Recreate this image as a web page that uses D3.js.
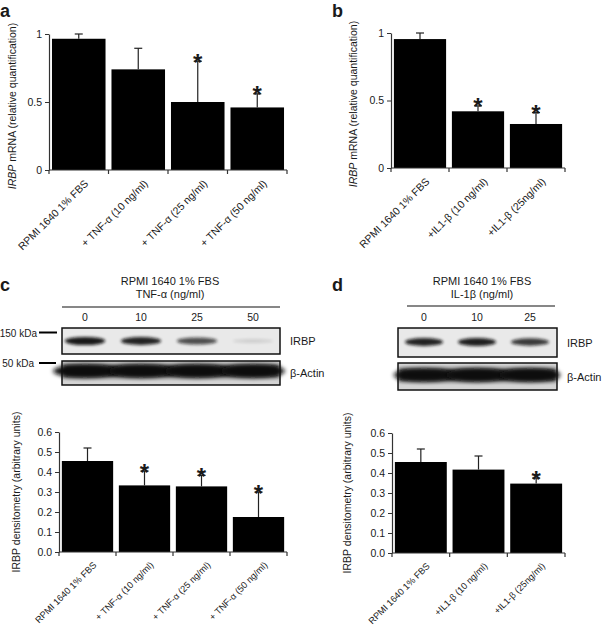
<!DOCTYPE html>
<html><head><meta charset="utf-8">
<script src="https://cdn.jsdelivr.net/npm/d3@7"></script>
<style>
body{margin:0;background:#fff}
svg{display:block}
text{font-family:"Liberation Sans",Arial,Helvetica,sans-serif;fill:#1a1a1a}
</style>
</head><body>
<svg id="fig" width="609" height="628"></svg>
<script>
// ---------- data ----------
const catsTNF = ["RPMI 1640 1% FBS", "+ TNF-\u03b1 (10 ng/ml)", "+ TNF-\u03b1 (25 ng/ml)", "+ TNF-\u03b1 (50 ng/ml)"];
const catsIL  = ["RPMI 1640 1% FBS", "+IL1-\u03b2 (10 ng/ml)", "+IL1-\u03b2 (25ng/ml)"];

const valsA = [0.965, 0.74, 0.50, 0.46];
const errA  = [0.035, 0.155, 0.30, 0.10];
const sigA  = [false, false, true, true];

const valsB = [0.955, 0.42, 0.326];
const errB  = [0.045, 0.04, 0.084];
const sigB  = [false, true, true];

const valsC = [0.455, 0.333, 0.328, 0.175];
const errC  = [0.065, 0.072, 0.055, 0.125];
const sigC  = [false, true, true, true];

const valsD = [0.455, 0.417, 0.347];
const errD  = [0.065, 0.068, 0.028];
const sigD  = [false, false, true];

const ticksMRNA = [0, 0.5, 1];
const ticksDens = [0, 0.1, 0.2, 0.3, 0.4, 0.5, 0.6];

const lanesC = ["0", "10", "25", "50"];
const irbpC  = [0.95, 0.9, 0.7, 0.12];
const actinC = [1, 1, 1, 1];
const lanesD = ["0", "10", "25"];
const irbpD  = [0.9, 0.92, 0.8];
const actinD = [0.95, 1, 1];

// ---------- setup ----------
const svg = d3.select("#fig");
const defs = svg.append("defs");
defs.append("filter").attr("id","blurS").attr("x","-50%").attr("y","-100%").attr("width","200%").attr("height","300%")
  .append("feGaussianBlur").attr("stdDeviation",1.4);
defs.append("filter").attr("id","blurL").attr("x","-20%").attr("y","-100%").attr("width","140%").attr("height","300%")
  .append("feGaussianBlur").attr("stdDeviation",2.2);

function panelLetter(t, x, y){
  svg.append("text").attr("x",x).attr("y",y).attr("font-size",18).attr("font-weight","bold").attr("fill","#000").text(t);
}

function barPanel(o){
  const g = svg.append("g");
  const x = d3.scaleBand().domain(o.cats).range([o.x0, o.x1]).paddingInner(0.1).paddingOuter(0.05);
  const y = d3.scaleLinear().domain([0, o.max]).range([o.y0, o.yTop]);
  const step = x.step();
  const rows = o.vals.map((v,i)=>({c:o.cats[i], v:v, e:o.errs[i], s:o.sig[i]}));
  const cx = d => x(d.c) + x.bandwidth()/2;
  // bars
  g.selectAll("rect.bar").data(rows).join("rect").attr("class","bar")
    .attr("x",d=>x(d.c)).attr("y",d=>y(d.v))
    .attr("width",x.bandwidth()).attr("height",d=>o.y0-y(d.v)).attr("fill","#000");
  // error bars
  g.selectAll("line.ev").data(rows).join("line").attr("class","ev")
    .attr("x1",cx).attr("x2",cx).attr("y1",d=>y(d.v)).attr("y2",d=>y(d.v+d.e))
    .attr("stroke","#222").attr("stroke-width",1.2);
  g.selectAll("line.ec").data(rows).join("line").attr("class","ec")
    .attr("x1",d=>cx(d)-4).attr("x2",d=>cx(d)+4).attr("y1",d=>y(d.v+d.e)).attr("y2",d=>y(d.v+d.e))
    .attr("stroke","#222").attr("stroke-width",1.2);
  // significance stars
  g.selectAll("text.star").data(rows.filter(d=>d.s)).join("text").attr("class","star")
    .attr("x",cx).attr("y",d=>y(d.v+d.e)+9.5)
    .attr("text-anchor","middle").attr("font-size",24).attr("font-weight","bold").attr("fill","#000").text("*");
  // y axis
  const ya = d3.axisLeft(y).tickValues(o.ticks).tickFormat(o.fmt).tickSize(4).tickSizeOuter(0).tickPadding(3);
  const yg = g.append("g").attr("transform",`translate(${o.x0},0)`).call(ya);
  yg.select(".domain").attr("stroke","#333").attr("stroke-width",1.2);
  yg.selectAll(".tick line").attr("stroke","#333");
  yg.selectAll(".tick text").attr("font-size",10.5).attr("font-family",null).attr("fill","#222");
  // x axis line + ticks at category boundaries
  g.append("line").attr("x1",o.x0).attr("x2",o.x1).attr("y1",o.y0).attr("y2",o.y0).attr("stroke","#333").attr("stroke-width",1.2);
  const bounds = o.cats.map(c=>x(c)-step*0.05).concat([o.x1]);
  g.selectAll("line.xt").data(bounds).join("line").attr("class","xt")
    .attr("x1",d=>d).attr("x2",d=>d).attr("y1",o.y0).attr("y2",o.y0+4).attr("stroke","#333").attr("stroke-width",1.2);
  // category labels
  g.selectAll("text.cat").data(o.cats).join("text").attr("class","cat")
    .attr("transform",d=>`translate(${x(d)+x.bandwidth()/2+5},${o.y0+9}) rotate(-45)`)
    .attr("text-anchor","end").attr("dy","0.7em").attr("font-size",o.catSize).text(d=>d);
  // y label
  const yl = g.append("text").attr("transform",`translate(${o.ylx},${o.yly}) rotate(-90)`)
    .attr("text-anchor","middle").attr("font-size",10.5);
  o.ylabel.forEach(p=>{ const t = yl.append("tspan").text(p.t); if(p.i) t.attr("font-style","italic"); });
}

function blotPanel(o){
  const g = svg.append("g");
  // titles
  g.append("text").attr("x",o.cx).attr("y",285).attr("text-anchor","middle").attr("font-size",11).text("RPMI 1640 1% FBS");
  g.append("text").attr("x",o.cx).attr("y",298).attr("text-anchor","middle").attr("font-size",11).text(o.sub);
  g.append("line").attr("x1",o.lx0).attr("x2",o.lx1).attr("y1",o.ly).attr("y2",o.ly).attr("stroke","#111").attr("stroke-width",1.2);
  const x = d3.scalePoint().domain(o.lanes).range([o.l0, o.l1]);
  const st = x.step();
  g.selectAll("text.lane").data(o.lanes).join("text").attr("class","lane")
    .attr("x",d=>x(d)).attr("y",321).attr("text-anchor","middle").attr("font-size",10.5).text(d=>d);
  const irows = o.irbp.map((v,i)=>({l:o.lanes[i], v:v}));
  const arows = o.actin.map((v,i)=>({l:o.lanes[i], v:v}));
  // IRBP blot
  g.append("rect").attr("x",o.bx0).attr("y",o.iy0).attr("width",o.bx1-o.bx0).attr("height",o.iy1-o.iy0)
    .attr("fill","#e9e9e9");
  g.selectAll("ellipse.irbp").data(irows).join("ellipse").attr("class","irbp")
    .attr("cx",d=>x(d.l)).attr("cy",o.ib)
    .attr("rx",st*0.36).attr("ry",d=>1.6+2.6*d.v)
    .attr("fill","#111").attr("opacity",d=>d.v).attr("filter","url(#blurS)");
  g.append("rect").attr("x",o.bx0).attr("y",o.iy0).attr("width",o.bx1-o.bx0).attr("height",o.iy1-o.iy0)
    .attr("fill","none").attr("stroke","#111").attr("stroke-width",1.5);
  // actin blot
  g.append("rect").attr("x",o.bx0).attr("y",o.ay0).attr("width",o.bx1-o.bx0).attr("height",o.ay1-o.ay0)
    .attr("fill","#d4d4d4");
  g.append("rect").attr("x",o.bx0+1).attr("y",o.ab-6).attr("width",o.bx1-o.bx0-2).attr("height",12)
    .attr("fill","#1a1a1a").attr("filter","url(#blurL)");
  g.selectAll("ellipse.actin").data(arows).join("ellipse").attr("class","actin")
    .attr("cx",d=>x(d.l)).attr("cy",o.ab)
    .attr("rx",st/2+4).attr("ry",6.5)
    .attr("fill","#111").attr("opacity",d=>d.v).attr("filter","url(#blurL)");
  g.append("rect").attr("x",o.bx0).attr("y",o.ay0).attr("width",o.bx1-o.bx0).attr("height",o.ay1-o.ay0)
    .attr("fill","none").attr("stroke","#111").attr("stroke-width",1.5);
  // right labels
  g.append("text").attr("x",o.bx1+10).attr("y",(o.iy0+o.iy1)/2+4).attr("font-size",11).text("IRBP");
  g.append("text").attr("x",o.bx1+10).attr("y",(o.ay0+o.ay1)/2+4).attr("font-size",11).text("\u03b2-Actin");
  if(o.kda){
    g.append("text").attr("x",37).attr("y",336.5).attr("text-anchor","end").attr("font-size",10).text("150 kDa");
    g.append("line").attr("x1",39).attr("x2",57).attr("y1",332.5).attr("y2",332.5).attr("stroke","#000").attr("stroke-width",2);
    g.append("text").attr("x",34).attr("y",366.5).attr("text-anchor","end").attr("font-size",10).text("50 kDa");
    g.append("line").attr("x1",39).attr("x2",56).attr("y1",363).attr("y2",363).attr("stroke","#000").attr("stroke-width",2);
  }
}

const fmt1 = d=> d===0 ? "0" : (d===1 ? "1" : d3.format(".1f")(d));
const fmtD = d3.format(".1f");
const ylMRNA = [{t:"IRBP", i:true},{t:" mRNA (relative quantification)"}];
const ylDens = [{t:"IRBP densitometry (arbitrary units)"}];

panelLetter("a", 0, 17);
panelLetter("b", 332, 17);
panelLetter("c", 0, 291);
panelLetter("d", 332, 291);

barPanel({cats:catsTNF, vals:valsA, errs:errA, sig:sigA, x0:49, x1:287, y0:170, yTop:34, max:1,
  ticks:ticksMRNA, fmt:fmt1, ylabel:ylMRNA, ylx:16, yly:106, catSize:10.5});
barPanel({cats:catsIL, vals:valsB, errs:errB, sig:sigB, x0:391, x1:565, y0:168, yTop:33, max:1,
  ticks:ticksMRNA, fmt:fmt1, ylabel:ylMRNA, ylx:357, yly:104, catSize:10.5});
barPanel({cats:catsTNF, vals:valsC, errs:errC, sig:sigC, x0:59, x1:287, y0:552, yTop:432, max:0.6,
  ticks:ticksDens, fmt:fmtD, ylabel:ylDens, ylx:20, yly:492, catSize:9.2});
barPanel({cats:catsIL, vals:valsD, errs:errD, sig:sigD, x0:392, x1:565, y0:553, yTop:433, max:0.6,
  ticks:ticksDens, fmt:fmtD, ylabel:ylDens, ylx:351, yly:493, catSize:9.2});

blotPanel({cx:170, sub:"TNF-\u03b1 (ng/ml)", lx0:62, lx1:280, ly:307, lanes:lanesC, irbp:irbpC, actin:actinC,
  l0:85, l1:253, bx0:62, bx1:280, iy0:328, iy1:354, ib:341, ay0:361, ay1:385, ab:371, kda:true});
blotPanel({cx:482, sub:"IL-1\u03b2 (ng/ml)", lx0:407, lx1:555, ly:306, lanes:lanesD, irbp:irbpD, actin:actinD,
  l0:424, l1:530, bx0:398, bx1:557, iy0:328, iy1:357, ib:342, ay0:363, ay1:390, ab:375, kda:false});
</script>
</body></html>
